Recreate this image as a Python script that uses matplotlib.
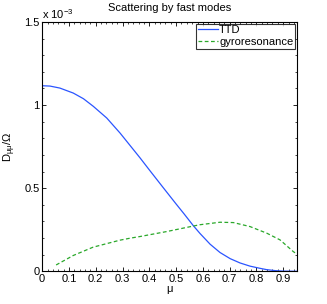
import numpy as np
import matplotlib
matplotlib.use('Agg')
import matplotlib.pyplot as plt

plt.rcParams['font.family'] = ['Liberation Sans', 'DejaVu Sans']
plt.rcParams['mathtext.fontset'] = 'custom'
plt.rcParams['mathtext.rm'] = 'Liberation Sans'
plt.rcParams['mathtext.it'] = 'Liberation Sans'

# TTD curve (units of 1e-3)
mu_ttd = [0.0, 0.029, 0.066, 0.116, 0.154, 0.191, 0.241, 0.291, 0.328, 0.365,
          0.40, 0.452, 0.50, 0.53, 0.564, 0.589, 0.627, 0.664, 0.702, 0.739,
          0.776, 0.813, 0.838, 0.87, 0.9, 0.95]
d_ttd = [1.116, 1.114, 1.102, 1.072, 1.038, 0.992, 0.922, 0.831, 0.757, 0.683,
         0.61, 0.503, 0.405, 0.345, 0.275, 0.228, 0.163, 0.113, 0.076, 0.050,
         0.031, 0.018, 0.010, 0.004, 0.001, 0.0]

# gyroresonance curve (units of 1e-3)
mu_gyro = [0.052, 0.116, 0.19, 0.29, 0.328, 0.365, 0.465, 0.564, 0.589, 0.664,
           0.714, 0.776, 0.839, 0.888, 0.938, 0.95]
d_gyro = [0.038, 0.095, 0.145, 0.187, 0.199, 0.209, 0.239, 0.272, 0.280, 0.295,
          0.293, 0.269, 0.229, 0.189, 0.118, 0.105]

xticks = [0, 0.1, 0.2, 0.3, 0.4, 0.5, 0.6, 0.7, 0.8, 0.9]
xticklabels = ['0', '0.1', '0.2', '0.3', '0.4', '0.5', '0.6', '0.7', '0.8', '0.9']
yticks = [0, 0.5, 1, 1.5]
yticklabels = ['0', '0.5', '1', '1.5']

fig = plt.figure(figsize=(3.27, 3.04), dpi=100)
ax = fig.add_axes([0.129, 0.1076, 0.778, 0.8204])

ax.plot(mu_ttd, d_ttd, color='#2b55ff', lw=0.9, label='TTD')
ax.plot(mu_gyro, d_gyro, color='#2aa82a', lw=0.9, ls=(0, (3, 2)), label='gyroresonance')

ax.set_xlim(0, 0.95)
ax.set_ylim(0, 1.5)
ax.set_xticks(xticks)
ax.set_xticklabels(xticklabels)
ax.set_xticks(np.arange(0, 0.95, 0.02), minor=True)
ax.set_yticks(yticks)
ax.set_yticklabels(yticklabels)
ax.set_yticks(np.arange(0, 1.5, 0.1), minor=True)
ax.tick_params(which='both', direction='in', top=True, right=True, labelsize=8, pad=2)
ax.tick_params(which='major', length=3, width=0.6)
ax.tick_params(which='minor', length=1.5, width=0.5)
for s in ax.spines.values():
    s.set_linewidth(0.8)

ax.text(0.0, 1.003, r'x 10$^{-3}$', transform=ax.transAxes, fontsize=8, va='bottom', ha='left')
ax.set_title('Scattering by fast modes', fontsize=8, pad=8)
ax.set_xlabel(r'$\mu$', fontsize=8, labelpad=0)
ax.set_ylabel(r'D$_{\mu\mu}$/$\Omega$', fontsize=8, labelpad=4)

leg = ax.legend(loc='upper right', fontsize=8, frameon=True, fancybox=False,
                borderpad=0.15, handlelength=1.8, handletextpad=0.1, labelspacing=0.15,
                borderaxespad=0.15)
leg.get_frame().set_edgecolor('black')
leg.get_frame().set_linewidth(0.8)

plt.savefig('out.png', dpi=100)
